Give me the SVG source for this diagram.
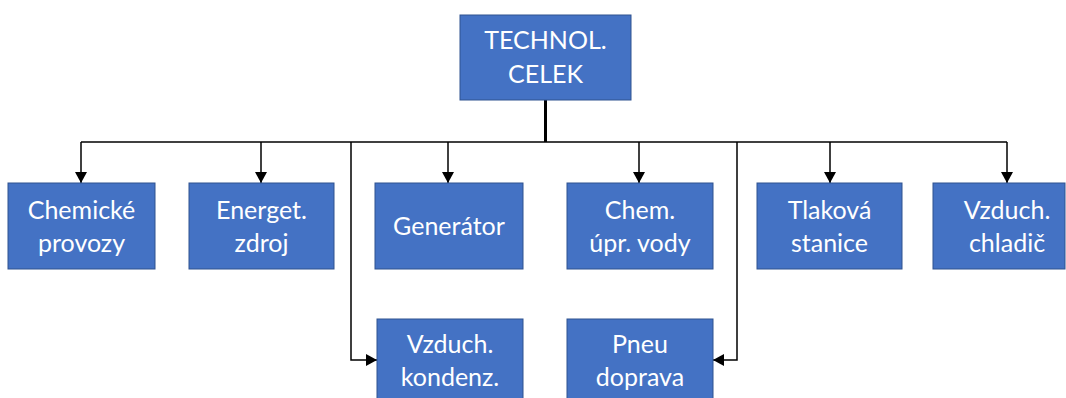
<svg xmlns="http://www.w3.org/2000/svg" width="1066" height="398" viewBox="0 0 1066 398">
<style>
.box{fill:#4472C4;stroke:#2F528F;stroke-width:1}
.t{font-family:Lato,"Liberation Sans",sans-serif;font-size:25px;fill:#ffffff;text-anchor:middle}
.c{fill:none;stroke:#000;stroke-width:1.5}
</style>
<defs>
<marker id="ah" markerUnits="userSpaceOnUse" markerWidth="12" markerHeight="12" refX="11" refY="6" orient="auto">
<path d="M0,0 L11,6 L0,12 z" fill="#000"/>
</marker>
</defs>
<rect width="1066" height="398" fill="#fff"/>
<g id="connectors">
<path d="M545.5,100 V142" fill="none" stroke="#000" stroke-width="3"/>
<path class="c" d="M81,142 H1007"/>
<path class="c" d="M81,142 V183" marker-end="url(#ah)"/>
<path class="c" d="M261,142 V183" marker-end="url(#ah)"/>
<path class="c" d="M448,142 V183" marker-end="url(#ah)"/>
<path class="c" d="M639,142 V183" marker-end="url(#ah)"/>
<path class="c" d="M830,142 V183" marker-end="url(#ah)"/>
<path class="c" d="M1007,142 V183" marker-end="url(#ah)"/>
<path class="c" d="M351,142 V360 H377" marker-end="url(#ah)"/>
<path class="c" d="M737,142 V360 H713" marker-end="url(#ah)"/>
</g>
<g id="technol">
<rect class="box" x="460" y="15" width="171" height="85"/>
<text class="t" x="545.5" y="49">TECHNOL.</text>
<text class="t" x="545.5" y="83">CELEK</text>
</g>
<g id="chemicke">
<rect class="box" x="8" y="183" width="147" height="86"/>
<text class="t" x="81.5" y="219">Chemické</text>
<text class="t" x="81.5" y="252">provozy</text>
</g>
<g id="energet">
<rect class="box" x="189" y="183" width="145" height="86"/>
<text class="t" x="261.5" y="219">Energet.</text>
<text class="t" x="261.5" y="252">zdroj</text>
</g>
<g id="generator">
<rect class="box" x="375" y="183" width="148" height="86"/>
<text class="t" x="449" y="235">Generátor</text>
</g>
<g id="chemupr">
<rect class="box" x="567" y="183" width="146" height="86"/>
<text class="t" x="640" y="219">Chem.</text>
<text class="t" x="640" y="252">úpr. vody</text>
</g>
<g id="tlakova">
<rect class="box" x="757" y="183" width="145" height="86"/>
<text class="t" x="829.5" y="219">Tlaková</text>
<text class="t" x="829.5" y="252">stanice</text>
</g>
<g id="chladic">
<rect class="box" x="933" y="183" width="132" height="86"/>
<text class="t" x="1007" y="219">Vzduch.</text>
<text class="t" x="1007" y="252">chladič</text>
</g>
<g id="kondenz">
<rect class="box" x="377" y="319" width="146" height="86"/>
<text class="t" x="450" y="353">Vzduch.</text>
<text class="t" x="450" y="386">kondenz.</text>
</g>
<g id="pneu">
<rect class="box" x="567" y="319" width="146" height="86"/>
<text class="t" x="640" y="353">Pneu</text>
<text class="t" x="640" y="386">doprava</text>
</g>
</svg>
